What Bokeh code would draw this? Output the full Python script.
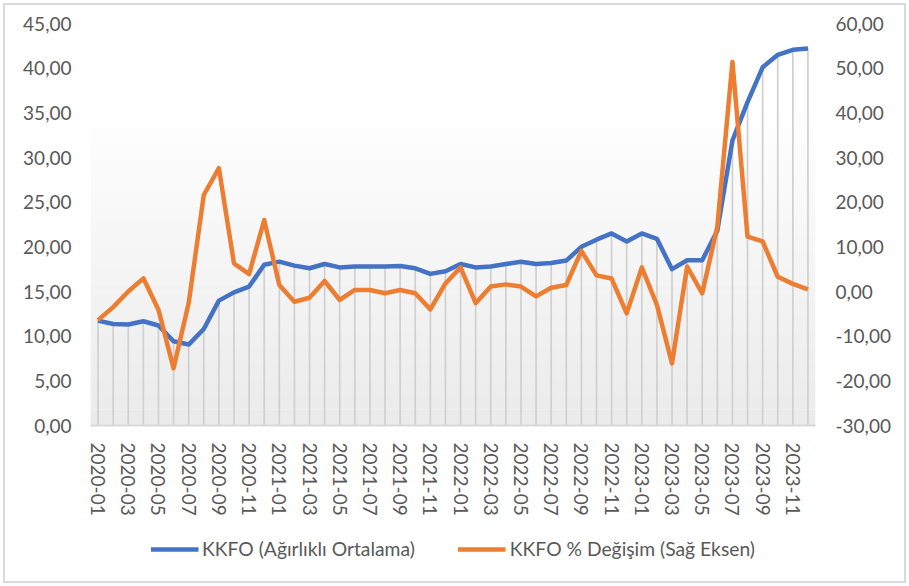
import numpy as np
from bokeh.plotting import figure
from bokeh.layouts import column
from bokeh.models import (Range1d, LinearAxis, FixedTicker, CustomJSTickFormatter,
                          ColumnDataSource, Legend, LegendItem, BoxAnnotation)
from bokeh.embed import file_html
from bokeh.resources import INLINE

months = [f"{y}-{m:02d}" for y in range(2020, 2024) for m in range(1, 13)]

kkfo = [11.74, 11.37, 11.3, 11.67, 11.19, 9.43, 9.06, 10.8, 13.98, 14.9, 15.55, 18.0,
        18.34, 17.9, 17.6, 18.08, 17.7, 17.8, 17.8, 17.8, 17.86, 17.6, 16.97, 17.26,
        18.08, 17.7, 17.8, 18.08, 18.34, 18.08, 18.2, 18.46, 20.0, 20.8, 21.5, 20.6,
        21.5, 20.9, 17.5, 18.5, 18.5, 21.8, 31.9, 36.2, 40.1, 41.5, 42.06, 42.2]

kkfo_pct = [-6.4, -3.5, 0.0, 2.95, -4.1, -17.2, -2.6, 21.6, 27.6, 6.3, 3.9, 16.0,
            1.45, -2.3, -1.4, 2.35, -1.9, 0.34, 0.34, -0.4, 0.34, -0.4, -4.0, 1.8,
            5.4, -2.6, 1.1, 1.6, 1.1, -1.1, 0.85, 1.45, 9.1, 3.6, 2.9, -4.9,
            5.4, -3.0, -16.1, 5.6, -0.4, 14.5, 51.4, 12.3, 11.2, 3.3, 1.7, 0.5]

left_ticks = [0, 5, 10, 15, 20, 25, 30, 35, 40, 45]
right_ticks = [-30, -20, -10, 0, 10, 20, 30, 40, 50, 60]

series_names = ["KKFO (Ağırlıklı Ortalama)", "KKFO % Değişim (Sağ Eksen)"]
series_colors = ["#4472C4", "#ED7D31"]

FONT = "Lato"
TXT = "#595959"
FS = "19px"
W = 909

src = ColumnDataSource(dict(x=list(range(len(months))), month=months,
                            kkfo=kkfo, pct=kkfo_pct))

p = figure(width=W, height=520, output_backend="svg", toolbar_location=None,
           x_range=Range1d(-0.5, len(months) - 0.5), y_range=Range1d(0, 45),
           min_border_left=90, min_border_right=94, min_border_top=23,
           min_border_bottom=95)
p.extra_y_ranges = {"right": Range1d(-30, 60)}
p.outline_line_color = None
p.xgrid.grid_line_color = None
p.ygrid.grid_line_color = None
p.background_fill_color = "white"
p.border_fill_color = None

# soft gradient in plot area (decorative)
nb = 40
for i in range(nb):
    lo = 35.0 * i / nb
    hi = 35.0 * (i + 1) / nb + 0.05
    t = i / (nb - 1)
    c = int(round(235 + (254 - 235) * t))
    p.add_layout(BoxAnnotation(bottom=lo, top=hi, left=-0.5, right=len(months) - 0.5,
                               fill_color=f"#{c:02x}{c:02x}{c:02x}", fill_alpha=1.0,
                               line_alpha=0, level="underlay"))

# drop lines
p.segment(x0="x", y0=0, x1="x", y1="kkfo", source=src, line_color="#d0d0d0",
          line_width=1.7)

p.line("x", "kkfo", source=src, line_color=series_colors[0], line_width=4.5,
       line_join="round")
p.line("x", "pct", source=src, line_color=series_colors[1], line_width=4.5,
       line_join="round", y_range_name="right")


def style_axis(ax, standoff):
    ax.axis_line_color = None
    ax.major_tick_line_color = None
    ax.minor_tick_line_color = None
    ax.major_tick_out = 0
    ax.major_tick_in = 0
    ax.minor_tick_out = 0
    ax.major_label_text_font = FONT
    ax.major_label_text_font_size = FS
    ax.major_label_text_color = TXT
    ax.major_label_standoff = standoff


ya = p.yaxis[0]
ya.ticker = FixedTicker(ticks=left_ticks)
ya.formatter = CustomJSTickFormatter(code="return tick.toFixed(2).replace('.', ',');")
style_axis(ya, 19)

ra = LinearAxis(y_range_name="right", ticker=FixedTicker(ticks=right_ticks),
                formatter=CustomJSTickFormatter(code="return tick.toFixed(2).replace('.', ',');"))
style_axis(ra, 20)
p.add_layout(ra, "right")

xa = p.xaxis[0]
xa.ticker = FixedTicker(ticks=list(range(0, len(months), 2)))
xa.formatter = CustomJSTickFormatter(args=dict(labels=months),
                                     code="return labels[Math.round(tick)] || '';")
style_axis(xa, 17)
xa.axis_line_color = "#d9d9d9"
xa.axis_line_width = 2
xa.major_label_orientation = "vertical"

# legend strip below the chart
p2 = figure(width=W, height=66, output_backend="svg", toolbar_location=None,
            x_range=Range1d(0, 1), y_range=Range1d(0, 1),
            x_axis_location=None, y_axis_location=None,
            min_border_left=10, min_border_right=0, min_border_top=0, min_border_bottom=0)
p2.outline_line_color = None
p2.xgrid.grid_line_color = None
p2.ygrid.grid_line_color = None
p2.background_fill_color = None
p2.border_fill_color = None
items = []
for name, col in zip(series_names, series_colors):
    r = p2.line(x=np.array([np.nan]), y=np.array([np.nan]), line_color=col, line_width=4.5)
    items.append(LegendItem(label=name, renderers=[r]))
legend = Legend(items=items, orientation="horizontal", location="top_center",
                border_line_color=None, background_fill_alpha=0,
                glyph_width=48, glyph_height=20, label_standoff=4, spacing=43,
                label_text_font=FONT, label_text_font_size="19.3px", label_text_color=TXT,
                padding=0, margin=17)
p2.add_layout(legend, "center")

layout = column(p, p2, spacing=0,
                styles={"background": "white",
                        "box-shadow": "inset 0 0 0 3px white, inset 0 0 0 5px #d9d9d9"})

open("out.html", "w").write(file_html(layout, INLINE))
